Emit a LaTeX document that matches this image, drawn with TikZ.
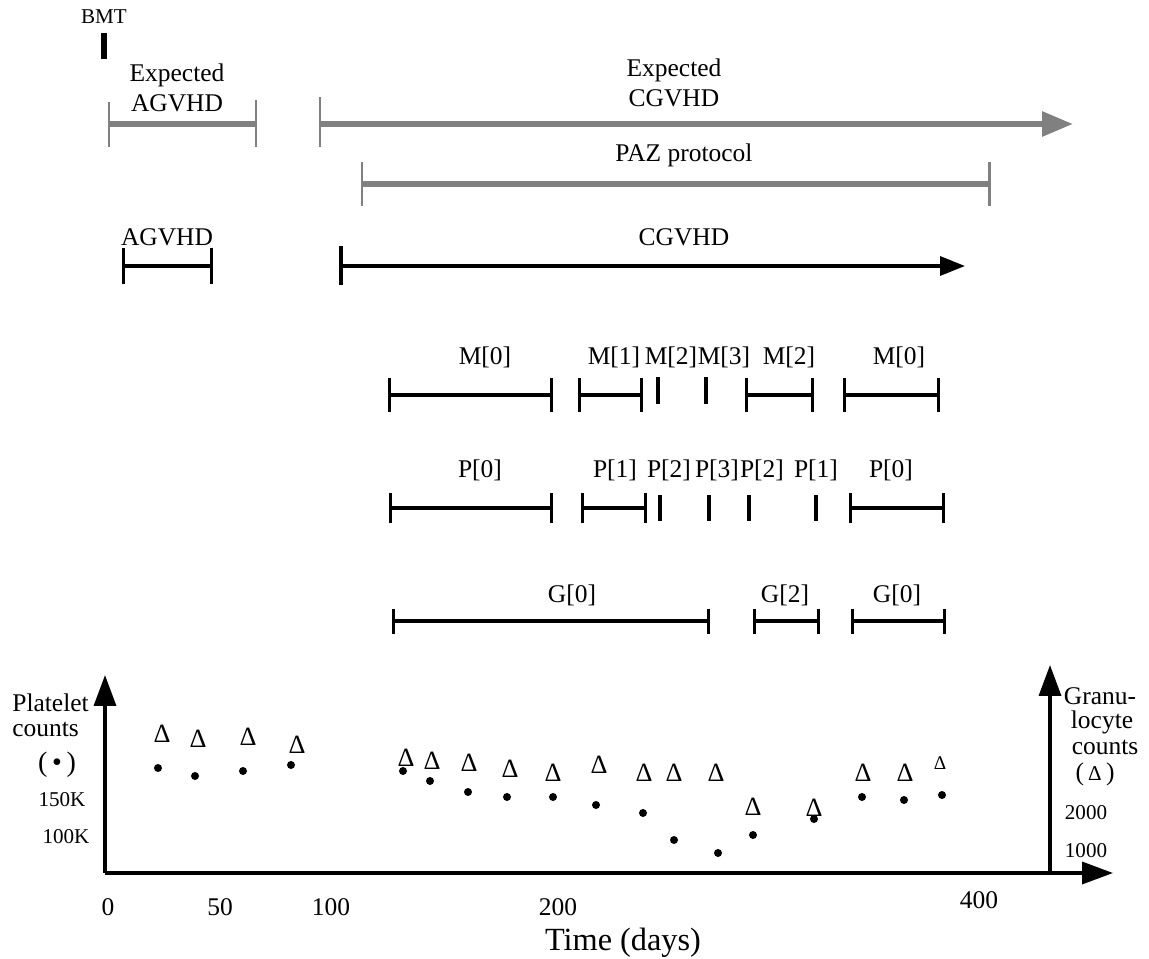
\documentclass[tikz,border=0pt]{standalone}
\usepackage{fontspec}
\setmainfont{Liberation Serif}
\usetikzlibrary{arrows.meta}
\tikzset{
  lbl/.style      = {font=\fontsize{14.5}{17}\selectfont,inner sep=0pt},
  smalllbl/.style = {font=\fontsize{12}{14}\selectfont,inner sep=0pt},
  grayline/.style = {gray,line width=3.4pt},
  graytick/.style = {gray,line width=1.7pt},
  stage/.style    = {{Bar[width=#1]}-{Bar[width=#1]},line width=1.9pt},
  barmark/.style  = {line width=2.8pt},
  axisarr/.style  = {-{Triangle[length=0.62cm,width=0.44cm]},line width=2pt},
  ptdot/.style    = {circle,fill,inner sep=0pt,minimum size=0.16cm},
  gtri/.style     = {font=\fontsize{15}{17}\selectfont,inner sep=0pt}
}

\begin{document}
\begin{tikzpicture}[x=0.02cm,y=-0.02cm]
  \useasboundingbox (0,0) rectangle (1149,959);
  \node[smalllbl] (bmt) at (104,17) {BMT};
  \draw[line width=3.4pt] (104,33) -- (104,59);

  \node[lbl,align=center] (expa) at (177,88) {Expected\\AGVHD};
  \draw[grayline] (109,124) -- (256,124);
  \draw[graytick] (109,102) -- (109,147);
  \draw[graytick] (256,100) -- (256,147);
  \node[lbl,align=center] (expc) at (674,83) {Expected\\CGVHD};
  \draw[grayline,-{Triangle[length=0.62cm,width=0.48cm]}] (320,124) -- (1073,124);
  \draw[graytick] (320,97) -- (320,147);
  \node[lbl] (paz) at (684,155) {PAZ protocol};
  \draw[grayline] (362,184) -- (989,184);
  \draw[graytick] (362,162) -- (362,206);
  \draw[graytick] (989,162) -- (989,206);

  \node[lbl] (agvhd) at (167,237) {AGVHD};
  \draw[stage=0.74cm] (122,266) -- (213,266);
  \node[lbl] (cgvhd) at (684,237) {CGVHD};
  \draw[line width=1.9pt,-{Triangle[length=0.5cm,width=0.38cm]}] (341,266) -- (965,266);
  \draw[line width=1.9pt] (341,246) -- (341,285);

  \foreach \a/\b in {388/553,578/643,745/814,843/940}
    \draw[stage=0.68cm] (\a,395) -- (\b,395);
  \foreach \a in {658,706}
    \draw[barmark] (\a,377) -- (\a,404);
  \foreach \x/\t [count=\i] in {485/M[0],614/M[1],671/M[2],724/M[3],789/M[2],899/M[0]}
    \node[lbl] (m\i) at (\x,357) {\t};

  \foreach \a/\b in {389/553,581/647,849/945}
    \draw[stage=0.6cm] (\a,508) -- (\b,508);
  \foreach \a in {660,709,749,816}
    \draw[barmark] (\a,495) -- (\a,521);
  \foreach \x/\t [count=\i] in {480/P[0],615/P[1],669/P[2],717/P[3],762/P[2],816/P[1],891/P[0]}
    \node[lbl] (p\i) at (\x,470) {\t};

  \foreach \a/\b in {392/710,753/820,851/946}
    \draw[stage=0.5cm] (\a,621) -- (\b,621);
  \foreach \x/\t [count=\i] in {572/G[0],785/G[2],897/G[0]}
    \node[lbl] (g\i) at (\x,595) {\t};

  \draw[axisarr] (105,873) -- (105,675);
  \draw[axisarr] (105,873) -- (1113,873);
  \draw[axisarr] (1050,873) -- (1050,665);

  \node[lbl,anchor=west] (plt1) at (12,703) {Platelet};
  \node[lbl,anchor=west] (plt2) at (12,729) {counts};
  \node[lbl,font=\fontsize{16}{18}\selectfont] (plt3) at (57,765) {(\,•\,)};
  \node[smalllbl] (k150) at (62,800) {150K};
  \node[smalllbl] (k100) at (66,837) {100K};
  \node[lbl] (gra1) at (1100,696) {Granu-};
  \node[lbl] (gra2) at (1102,722) {locyte};
  \node[lbl] (gra3) at (1105,747) {counts};
  \node[lbl] (gra4) at (1095,774) {(\,{\fontsize{12}{14}\selectfont Δ}\,)};
  \node[smalllbl] (n2000) at (1086,813) {2000};
  \node[smalllbl] (n1000) at (1086,851) {1000};

  \foreach \x/\t in {108/0,220/50,331/100,558/200}
    \node[lbl] (t\t) at (\x,907) {\t};
  \node[lbl] (t400) at (979,900) {400};
  \node[font=\fontsize{18.4}{21}\selectfont,inner sep=0pt] (time) at (623,943) {Time (days)};

  \foreach \x/\y [count=\i] in {158/768,195/776,243/771,291/765,403/771,430/781,
      468/792,507/797,553/797,596/805,643/813,674/840,718/853,753/835,814/819,
      862/797,904/800,942/795}
    \node[ptdot] (d\i) at (\x,\y) {};
  \foreach \x/\y [count=\i] in {162/734,198/739,248/737,297/745,406/758,432/761,
      469/763,510/769,553/773,599/765,644/773,674/773,716/773,753/807,814/808,
      863/773,905/773}
    \node[gtri] (c\i) at (\x,\y) {Δ};
  \node[gtri,font=\fontsize{11}{13}\selectfont] (c18) at (940,763) {Δ};
\end{tikzpicture}
\end{document}
